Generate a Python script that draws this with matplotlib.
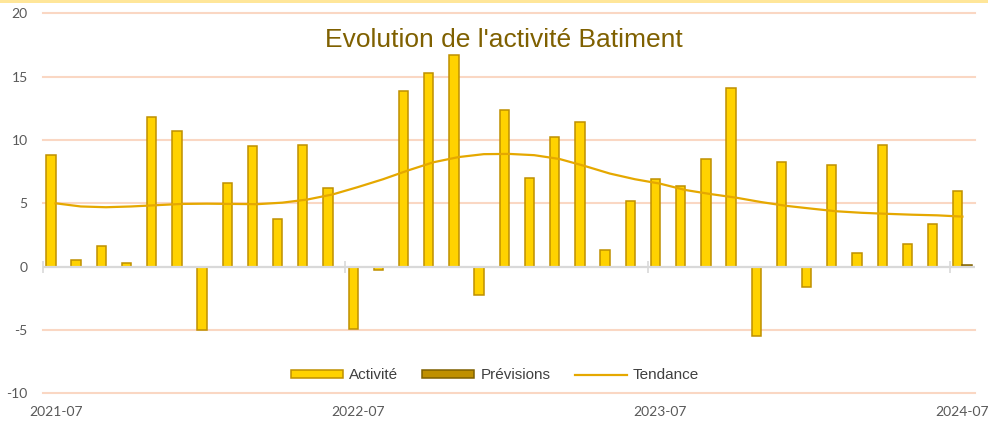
import numpy as np
import pandas as pd
import matplotlib
matplotlib.use("Agg")
import matplotlib.pyplot as plt
from matplotlib.patches import Rectangle

# monthly categories, 2021-07 .. 2024-07
months = [str(p) for p in pd.period_range("2021-07", "2024-07", freq="M")]

activite = [8.8, 0.5, 1.6, 0.3, 11.8, 10.7, -5.0, 6.6, 9.5, 3.8, 9.6, 6.2,
            -4.9, -0.3, 13.9, 15.3, 16.7, -2.2, 12.4, 7.0, 10.2, 11.4, 1.3, 5.2,
            6.9, 6.4, 8.5, 14.1, -5.5, 8.3, -1.6, 8.0, 1.1, 9.6, 1.8, 3.4, 6.0]

previsions = [np.nan] * 36 + [0.15]

tendance = [5.0, 4.75, 4.69, 4.75, 4.85, 4.95, 4.97, 4.95, 4.93, 5.05, 5.3, 5.7,
            6.28, 6.9, 7.6, 8.24, 8.65, 8.88, 8.9, 8.8, 8.5, 7.95, 7.35, 6.9,
            6.55, 6.05, 5.73, 5.45, 5.1, 4.8, 4.58, 4.37, 4.25, 4.17, 4.1, 4.05, 3.95]

yticks = [-10, -5, 0, 5, 10, 15, 20]

GOLD = "#FFD200"
GOLD_EDGE = "#BF9000"
DARK = "#BF9000"
DARK_EDGE = "#7F6000"
TREND = "#E5A800"
GRID = "#FAD7C3"
TEXT = "#595959"

fig = plt.figure(figsize=(9.88, 4.23), dpi=100)
ax = fig.add_axes([43 / 988, 1 - 393.3 / 423, 932 / 988, 380 / 423])

x = np.arange(len(months))
w = 0.37

b1 = ax.bar(x - w / 2, activite, width=w, color=GOLD, edgecolor=GOLD_EDGE,
            linewidth=1.1, zorder=3, label="Activité")
b2 = ax.bar(x + w / 2, previsions, width=w, color=DARK, edgecolor=DARK_EDGE,
            linewidth=1.1, zorder=3, label="Prévisions")
ln, = ax.plot(x, tendance, color=TREND, lw=1.6, zorder=5, label="Tendance")

ax.set_xlim(-0.5, len(months) - 0.5)
ax.set_ylim(yticks[0], yticks[-1])

# horizontal gridlines, zero line drawn in grey over the bars
for v in yticks:
    if v != 0:
        ax.axhline(v, color=GRID, lw=1.5, zorder=1, clip_on=False)
ax.axhline(0, color="#D9D9D9", lw=1.6, zorder=4)

for s in ax.spines.values():
    s.set_visible(False)

ax.set_yticks(yticks)
ax.set_yticklabels([str(v) for v in yticks], fontfamily="Lato", fontsize=10, color=TEXT)
ax.tick_params(axis="y", length=0, pad=11)

lab_pos = x[::12]
ax.set_xticks(lab_pos)
ax.set_xticklabels([months[i] for i in lab_pos], fontfamily="Lato", fontsize=10, color=TEXT)
ax.tick_params(axis="x", length=0, pad=9)

# tick marks on the zero axis at yearly category boundaries
zero_frac = (0 - yticks[0]) / (yticks[-1] - yticks[0])
sec = ax.secondary_xaxis(zero_frac)
sec.set_xticks(lab_pos - 0.5)
sec.set_xticklabels([])
sec.tick_params(axis="x", direction="inout", length=8, width=1.2, color="#D9D9D9")
sec.spines["bottom"].set_visible(False)
sec.spines["top"].set_visible(False)

ax.set_title("Evolution de l'activité Batiment", fontfamily="Liberation Sans",
             fontsize=19, color="#7F6000", x=0.494, y=0.89)

leg = ax.legend(handles=[b1, b2, ln], loc="center", bbox_to_anchor=(0.485, 0.047),
                ncol=3, frameon=False,
                prop={"family": "Liberation Sans", "size": 11},
                handlelength=3.4, handleheight=0.5, handletextpad=0.4,
                columnspacing=1.6)
for t in leg.get_texts():
    t.set_color("#404040")

# thin yellow border along the top of the chart
fig.patches.append(Rectangle((0, 1 - 3 / 423), 1, 3 / 423, transform=fig.transFigure,
                             facecolor="#FFE699", edgecolor="none", figure=fig))

fig.savefig("out.png", dpi=100)
